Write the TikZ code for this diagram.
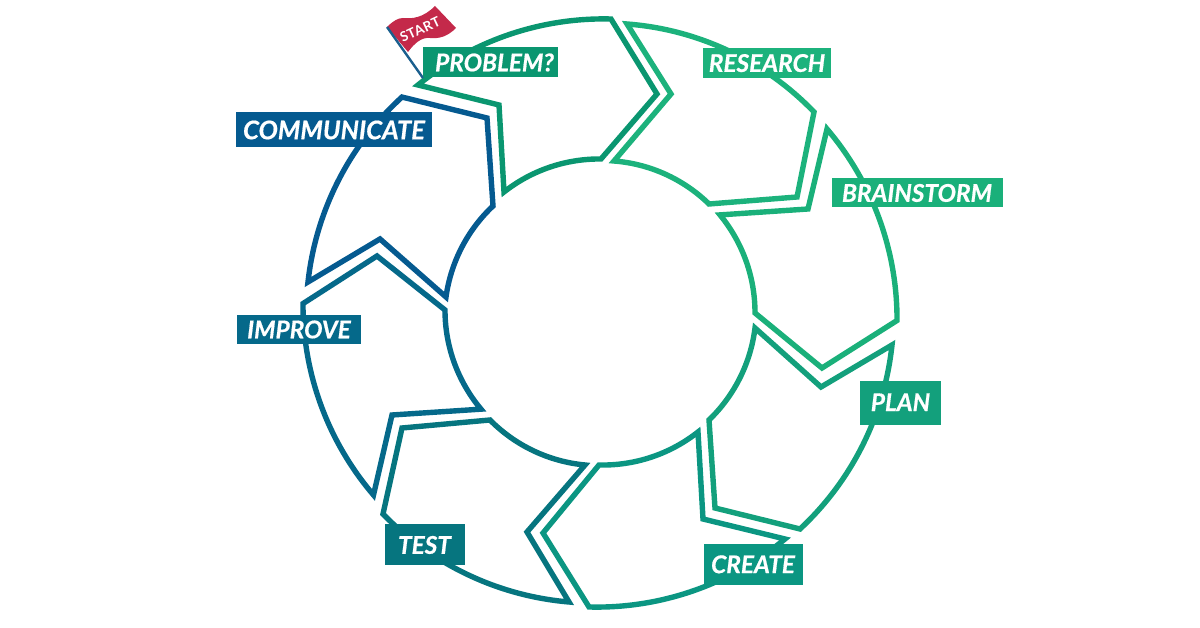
\documentclass[tikz,border=0pt]{standalone}
\usepackage{fontspec}
\setmainfont{Lato}
\usetikzlibrary{svg.path}
\definecolor{cProblem}{HTML}{0A9670}
\definecolor{cResearch}{HTML}{1CB27C}
\definecolor{cBrain}{HTML}{1AB07A}
\definecolor{cPlan}{HTML}{13A07C}
\definecolor{cCreate}{HTML}{0B9682}
\definecolor{cTest}{HTML}{06757F}
\definecolor{cImprove}{HTML}{05698A}
\definecolor{cComm}{HTML}{055A90}
\definecolor{cFlag}{HTML}{C4294A}
\definecolor{cPole}{HTML}{1B5F8E}
\tikzset{
  ringseg/.style={line width=5.4pt,miter limit=10,line join=miter,fill=none},
  lab/.style={inner sep=0pt,outer sep=0pt,text=white,font=\fontsize{24.4}{24.4}\selectfont\bfseries\itshape\addfontfeature{FakeBold=0.6}},
}
\begin{document}
\begin{tikzpicture}[x=1pt,y=1pt,cm={1,0,0,-1,(0pt,628pt)}]
\useasboundingbox (0,0) rectangle (1200,628);
\draw[ringseg,cProblem] svg {M 418 85 A 294 294 0 0 1 611 19 L 657 94 L 601 159 A 154 154 0 0 0 504 192 L 499 105 Z};
\draw[ringseg,cResearch] svg {M 627 24 A 290 290 0 0 1 814 112 L 797 197 L 709 204 A 153 153 0 0 0 614 161 L 671 94 Z};
\draw[ringseg,cBrain] svg {M 827 129 A 294 294 0 0 1 897 323 L 822 368 L 755 313 A 154 154 0 0 0 720 214 L 808 209 Z};
\draw[ringseg,cPlan] svg {M 892 345 A 294 294 0 0 1 800 529 L 715 508 L 709 420 A 154 154 0 0 0 755 328 L 821 387 Z};
\draw[ringseg,cCreate] svg {M 785 539 A 294 294 0 0 1 589 607 L 543 533 L 599 465 A 154 154 0 0 0 698 432 L 703 519 Z};
\draw[ringseg,cTest] svg {M 569 602 A 294 294 0 0 1 383 514 L 402 428 L 490 420 A 154 154 0 0 0 585 465 L 527 532 Z};
\draw[ringseg,cImprove] svg {M 373.5 495 A 294 294 0 0 1 303 302 L 377 256 L 445 310 A 154 154 0 0 0 481 410 L 392 415 Z};
\draw[ringseg,cComm] svg {M 308 282 A 294 294 0 0 1 402 97 L 487 118 L 493 206 A 154 154 0 0 0 446 297 L 380 239 Z};
% flag
\fill[cFlag] (387,27) .. controls (393,21) and (398,18) .. (403,18) .. controls (412,19) and (423,18) .. (435,6) -- (456,28) .. controls (448,36) and (440,39) .. (430,38) .. controls (421,37) and (414,44) .. (408,52) -- cycle;
\draw[cPole,line width=2.4pt] (387,27) -- (423,78);
\node[rotate=25,text=white,inner sep=0pt,font=\fontsize{13.5}{13.5}\selectfont\bfseries\addfontfeature{LetterSpace=4}] (startText) at (420,29.5) {START};
% labels
\node[lab,fill=cProblem,minimum width=135pt,minimum height=30pt] (problem) at (490.5,62.5) {\hspace*{8pt}PROBLEM?};
\node[lab,fill=cResearch,minimum width=128pt,minimum height=30pt] (research) at (767,63.5) {\raisebox{1pt}{RESEARCH}};
\node[lab,fill=cBrain,minimum width=171pt,minimum height=29pt] (brainstorm) at (917,193) {BRAINSTORM};
\node[lab,fill=cPlan,minimum width=81pt,minimum height=44pt] (plan) at (900.5,403) {\raisebox{1.5pt}{PLAN}};
\node[lab,fill=cCreate,minimum width=99pt,minimum height=41pt] (create) at (753,565) {\raisebox{1.5pt}{CREATE}};
\node[lab,fill=cTest,minimum width=80pt,minimum height=41pt] (test) at (424.5,545) {TEST};
\node[lab,fill=cImprove,minimum width=124pt,minimum height=29pt] (improve) at (299,329.5) {IMPROVE};
\node[lab,fill=cComm,minimum width=196pt,minimum height=35pt,font=\fontsize{25.6}{25.6}\selectfont\bfseries\itshape\addfontfeature{FakeBold=0.6}] (communicate) at (334,130) {\raisebox{-1pt}{COMMUNICATE}};
\end{tikzpicture}
\end{document}
